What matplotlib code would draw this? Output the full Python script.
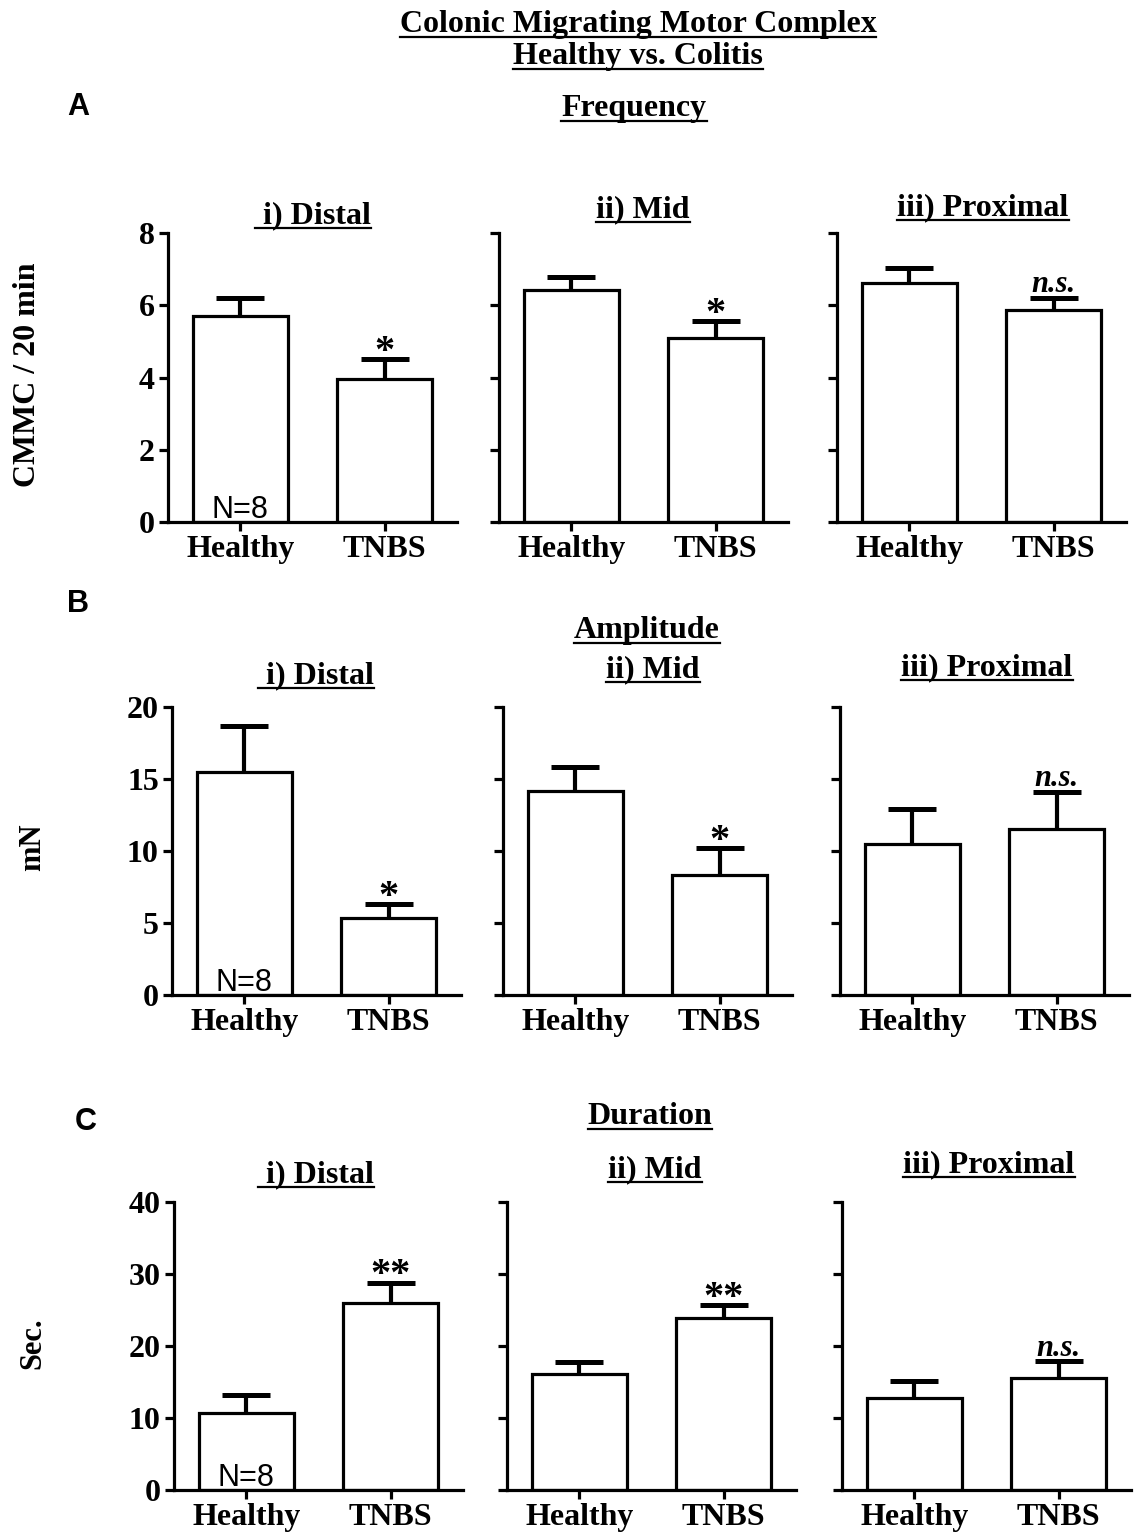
import matplotlib
matplotlib.use("Agg")
import matplotlib.pyplot as plt
from matplotlib.lines import Line2D

W, H = 1140, 1534

# ---------------- data ----------------
groups = ["Healthy", "TNBS"]
regions = ["i) Distal", "ii) Mid", "iii) Proximal"]

freq_mean = [[5.70, 3.97], [6.43, 5.10], [6.62, 5.87]]
freq_sem = [[0.50, 0.53], [0.36, 0.47], [0.42, 0.33]]
amp_mean = [[15.5, 5.35], [14.2, 8.3], [10.5, 11.5]]
amp_sem = [[3.2, 0.95], [1.6, 1.9], [2.4, 2.6]]
dur_mean = [[10.7, 26.0], [16.1, 23.9], [12.8, 15.5]]
dur_sem = [[2.5, 2.8], [1.7, 1.8], [2.3, 2.4]]

freq_sig = ["*", "*", "n.s."]
amp_sig = ["*", "*", "n.s."]
dur_sig = ["**", "**", "n.s."]

freq_ticks = [0, 2, 4, 6, 8]
amp_ticks = [0, 5, 10, 15, 20]
dur_ticks = [0, 10, 20, 30, 40]

ylabels = ["CMMC / 20 min", "mN", "Sec."]
sections = ["Frequency", "Amplitude", "Duration"]
letters = ["A", "B", "C"]
n_label = "N=8"

# ---------------- layout (pixels) ----------------
rows = [
    dict(mean=freq_mean, sem=freq_sem, sig=freq_sig, ticks=freq_ticks,
         top=233, bottom=522, lefts=[168, 499, 837],
         title_y=[223, 217, 215], title_x=[313, 643, 983]),
    dict(mean=amp_mean, sem=amp_sem, sig=amp_sig, ticks=amp_ticks,
         top=707, bottom=995, lefts=[172, 503, 840],
         title_y=[683, 677, 675], title_x=[316, 653, 987]),
    dict(mean=dur_mean, sem=dur_sem, sig=dur_sig, ticks=dur_ticks,
         top=1202, bottom=1490, lefts=[174, 507, 842],
         title_y=[1182, 1177, 1172], title_x=[316, 655, 989]),
]
panel_w = 289

SERIF = "Liberation Serif"
SANS = "Liberation Sans"

fig = plt.figure(figsize=(W / 100, H / 100), dpi=100)
fig.patch.set_facecolor("white")

underlined = []


def utext(x, y, s, size, style="normal"):
    t = fig.text(x / W, 1 - y / H, s, ha="center", va="baseline",
                 fontsize=size, fontweight="bold", family=SERIF, style=style)
    underlined.append((t, y + 5))
    return t


# main titles
utext(638, 32, "Colonic Migrating Motor Complex", 23)
utext(638, 64, "Healthy vs. Colitis", 23)
sec_pos = [(634, 116), (647, 638), (650, 1124)]
for s, (x, y) in zip(sections, sec_pos):
    utext(x, y, s, 23)

letter_pos = [(78, 107), (78, 604), (86, 1122)]
for s, (x, y) in zip(letters, letter_pos):
    fig.text(x / W, 1 - y / H, s, ha="center", va="center", fontsize=22,
             fontweight="bold", family=SANS)

ylab_pos = [(28, 375, 23), (33, 847, 22), (33, 1343, 22)]

x = [0, 1]
for r, row in enumerate(rows):
    for c in range(3):
        left = row["lefts"][c]
        top, bottom = row["top"], row["bottom"]
        ax = fig.add_axes([left / W, 1 - bottom / H, panel_w / W, (bottom - top) / H])
        means = row["mean"][c]
        sems = row["sem"][c]
        ax.bar(x, means, width=0.66, color="white", edgecolor="black",
               linewidth=2.3, zorder=2)
        ax.vlines(x, means, [m + s for m, s in zip(means, sems)],
                  color="black", linewidth=3.0, zorder=3)
        ax.hlines([m + s for m, s in zip(means, sems)],
                  [xi - 0.165 for xi in x], [xi + 0.165 for xi in x],
                  color="black", linewidth=3.6, zorder=3)
        ticks = row["ticks"]
        ax.set_xlim(-0.5, 1.5)
        ax.set_ylim(ticks[0], ticks[-1])
        ax.set_yticks(ticks)
        ax.set_xticks(x)
        ax.set_xticklabels(groups, fontsize=23, fontweight="bold", family=SERIF)
        if c == 0:
            ax.set_yticklabels([str(t) for t in ticks], fontsize=23,
                               fontweight="bold", family=SERIF)
        else:
            ax.set_yticklabels([])
        for side in ["top", "right"]:
            ax.spines[side].set_visible(False)
        for side in ["left", "bottom"]:
            ax.spines[side].set_linewidth(2.3)
        ax.spines["left"].set_zorder(4)
        ax.spines["bottom"].set_zorder(4)
        ax.tick_params(axis="both", direction="out", length=6.5, width=2.3,
                       pad=3)
        ax.set_facecolor("none")

        # significance
        sig = row["sig"][c]
        top_val = means[1] + sems[1]
        if sig == "n.s.":
            ax.annotate(sig, xy=(1, top_val), xytext=(0, 4),
                        textcoords="offset points", ha="center", va="baseline",
                        fontsize=22, fontweight="bold", style="italic",
                        family=SERIF)
        else:
            ax.annotate(sig, xy=(1, top_val), xytext=(0, -2),
                        textcoords="offset points", ha="center", va="baseline",
                        fontsize=29, fontweight="bold", family=SERIF)
        if c == 0:
            ax.annotate(n_label, xy=(0, 0), xytext=(0, 3),
                        textcoords="offset points", ha="center", va="baseline",
                        fontsize=22, family=SANS)

        utext(row["title_x"][c], row["title_y"][c],
              (" " if c == 0 else "") + regions[c], 23)

    lx, ly, ls = ylab_pos[r]
    fig.text(lx / W, 1 - ly / H, ylabels[r], rotation=90, ha="center",
             va="center", fontsize=ls, fontweight="bold", family=SERIF)

fig.canvas.draw()
renderer = fig.canvas.get_renderer()
for t, uy in underlined:
    bb = t.get_window_extent(renderer)
    yy = 1 - uy / H
    fig.add_artist(Line2D([bb.x0 / W, bb.x1 / W], [yy, yy],
                          transform=fig.transFigure, color="black",
                          linewidth=1.6))

fig.savefig("out.png", dpi=100, facecolor="white")
